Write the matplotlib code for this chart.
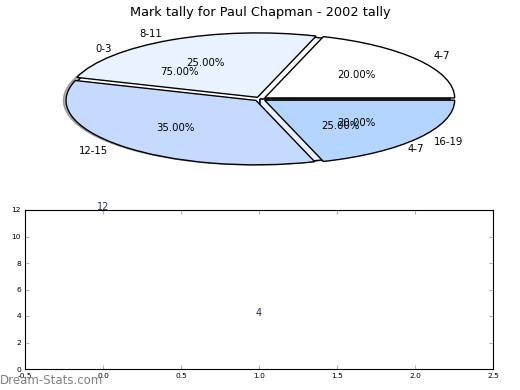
import matplotlib
matplotlib.use('Agg')
import matplotlib.pyplot as plt
import numpy as np

plt.rcParams['axes.unicode_minus'] = False

title = 'Mark tally for Paul Chapman - 2002 tally'

# first pie (drawn underneath)
inner_labels = ['0-3', '4-7']
inner_values = [75, 25]

# second pie (drawn on top, exploded)
outer_labels = ['4-7', '8-11', '12-15', '16-19']
outer_values = [20, 25, 35, 20]

colours = ['#ffffff', '#eaf2ff', '#c6d9ff', '#b3d5ff']

# value labels in the lower panel
text_x = [0, 1]
text_vals = [12, 4]

fig = plt.figure(figsize=(5.2, 3.9), dpi=100)

ax1 = fig.add_axes([0.0433, 0.5395, 0.9135, 0.413])
wedge_kw = {'edgecolor': 'black', 'linewidth': 1}
txt_kw = {'fontsize': 7.3}
ax1.pie(inner_values, labels=inner_labels, colors=colours, autopct='%.2f%%',
        shadow={'ox': -0.025, 'oy': -0.015, 'shade': 0.5, 'edgecolor': '#555555'},
        wedgeprops=wedge_kw, textprops=txt_kw)
ax1.pie(outer_values, labels=outer_labels, colors=colours, autopct='%.2f%%',
        explode=[0.03] * len(outer_values),
        wedgeprops=wedge_kw, textprops=txt_kw)
ax1.set_aspect('auto')
ax1.set_xlim(-1.25, 1.25)
ax1.set_ylim(-1.25, 1.25)
ax1.set_title(title, fontsize=9.3, pad=2)

ax2 = fig.add_axes([25 / 520, 21 / 390, 468 / 520, 159 / 390])
ax2.set_xlim(-0.5, 2.5)
ax2.set_ylim(0, 12)
ax2.set_xticks(np.arange(-0.5, 2.51, 0.5))
ax2.set_yticks(np.arange(0, 13, 2))
ax2.tick_params(direction='in', length=3, color='#b0b0b0', labelsize=5.4,
                top=True, right=True, pad=3)
for x, v in zip(text_x, text_vals):
    ax2.text(x, v, str(v), ha='center', va='baseline', fontsize=7,
             color='#22305a')

fig.text(0, 10 / 390, 'Dream-Stats.com', fontsize=8.5, color='#808080',
         ha='left', va='center')

fig.savefig('out.png', dpi=100)
